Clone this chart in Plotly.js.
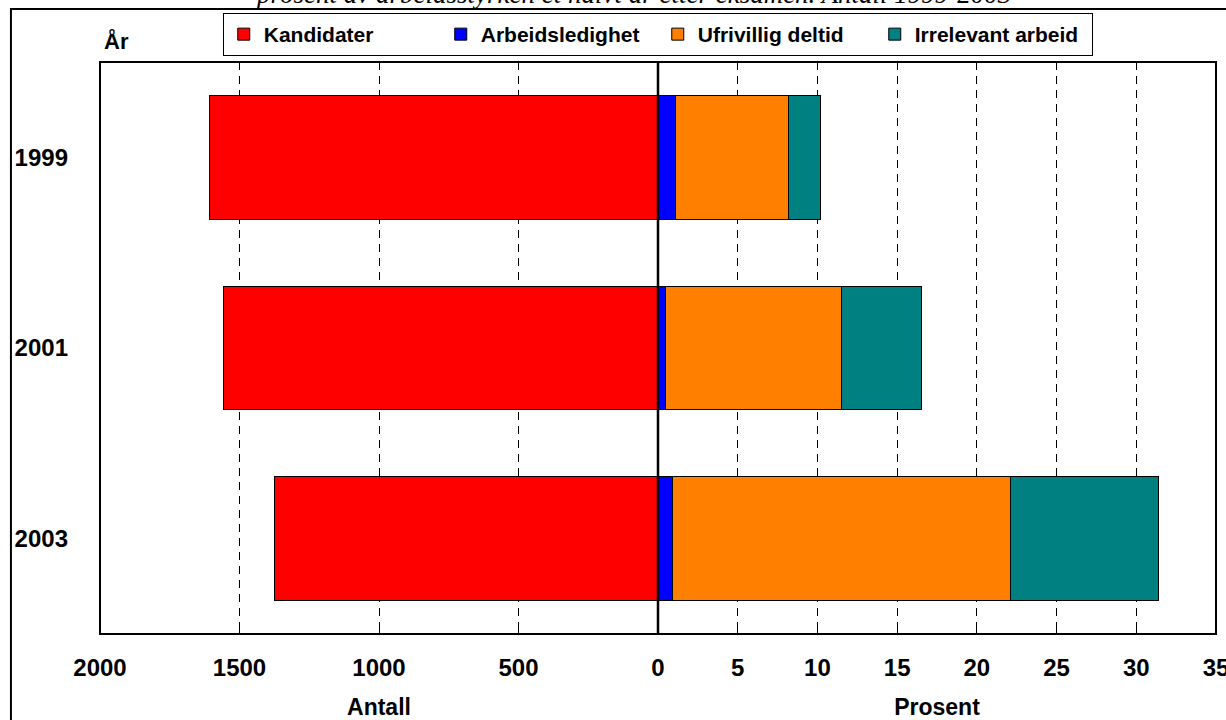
<!DOCTYPE html>
<html lang="no">
<head>
    <meta charset="UTF-8">
    <title>Kandidater og andel ledige</title>
    <script src="https://cdn.plot.ly/plotly-3.0.1.min.js"></script>
    <style>
        body { margin: 0; padding: 0; background: #fff; }
        #grafico { width: 1226px; height: 720px; }
    </style>
</head>
<body>
<div id="grafico"></div>
<script>
    // Data lest av figuren
    const aar = ['1999', '2001', '2003'];
    const kandidater = [1606, 1559, 1373];          // Antall
    const arbeidsledighet = [1.1, 0.45, 0.9];       // Prosent
    const ufrivilligDeltid = [7.1, 11.05, 21.2];    // Prosent
    const irrelevantArbeid = [2.0, 5.0, 9.3];       // Prosent

    const antallTicks = [2000, 1500, 1000, 500];
    const prosentTicks = [0, 5, 10, 15, 20, 25, 30, 35];

    const fontFam = '"Liberation Sans", Arial, sans-serif';
    const kant = { color: '#000', width: 1 };

    function serie(navn, verdier, farge, akse) {
        return {
            type: 'bar', orientation: 'h', name: navn,
            y: aar, x: verdier, xaxis: akse, yaxis: 'y',
            marker: { color: farge, line: kant },
            hoverinfo: 'x+name'
        };
    }

    const data = [
        serie('Kandidater', kandidater, '#FF0000', 'x'),
        serie('Arbeidsledighet', arbeidsledighet, '#0000FF', 'x2'),
        serie('Ufrivillig deltid', ufrivilligDeltid, '#FF8000', 'x2'),
        serie('Irrelevant arbeid', irrelevantArbeid, '#008080', 'x2')
    ];

    const titFont = { family: fontFam, size: 23, weight: 'bold', color: '#000' };

    const felles = {
        showgrid: true, gridcolor: '#000', gridwidth: 1, griddash: '8px,6px',
        ticks: 'inside', ticklen: 12, tickcolor: '#000', tickwidth: 1,
        showline: false, zeroline: false,
        tickfont: { family: fontFam, size: 24, weight: 'bold', color: '#000' },
        ticklabelstandoff: 17, ticklabeloverflow: 'allow'
    };

    const layout = {
        width: 1226, height: 720,
        margin: { l: 100, r: 10, t: 62, b: 86 },
        paper_bgcolor: '#fff', plot_bgcolor: '#fff',
        barmode: 'stack', bargap: 0.35,
        font: { family: fontFam, color: '#000' },
        xaxis: Object.assign({}, felles, {
            domain: [0, 0.5], range: [2000, 0], anchor: 'y',
            tickvals: antallTicks,
            title: { text: 'Antall', standoff: 24, font: titFont }
        }),
        xaxis2: Object.assign({}, felles, {
            domain: [0.5, 1], range: [0, 35], anchor: 'y',
            tickvals: prosentTicks,
            title: { text: 'Prosent', standoff: 24, font: titFont }
        }),
        yaxis: {
            type: 'category', autorange: 'reversed',
            showgrid: false, zeroline: false, showline: false, ticks: '',
            ticklabelstandoff: 31,
            tickfont: { family: fontFam, size: 24, weight: 'bold', color: '#000' }
        },
        showlegend: true,
        legend: {
            orientation: 'h', x: 0.110, y: 1.0857, xanchor: 'left', yanchor: 'top',
            bordercolor: '#000', borderwidth: 1, bgcolor: '#fff',
            entrywidth: 172, entrywidthmode: 'pixels', traceorder: 'normal',
            font: { family: fontFam, size: 21, weight: 'bold', color: '#000' }
        },
        shapes: [
            // ytre ramme
            { type: 'rect', xref: 'paper', yref: 'paper', x0: -0.0798, x1: 1.2, y0: -0.5, y1: 1.0927,
              line: { color: '#000', width: 2 }, fillcolor: 'rgba(0,0,0,0)' },
            // plottramme
            { type: 'rect', xref: 'paper', yref: 'paper', x0: 0, x1: 1, y0: 0, y1: 1,
              line: { color: '#000', width: 2 }, fillcolor: 'rgba(0,0,0,0)' },
            // nullinje
            { type: 'line', xref: 'paper', yref: 'paper', x0: 0.5, x1: 0.5, y0: 0, y1: 1,
              line: { color: '#000', width: 2.5 }, layer: 'above' }
        ],
        annotations: [
            { text: 'prosent av arbeidsstyrken et halvt år etter eksamen. Antall 1999-2003',
              xref: 'paper', yref: 'paper', x: 0.4776, y: 1.0909,
              xanchor: 'center', yanchor: 'bottom', showarrow: false, borderpad: 0,
              font: { family: '"Liberation Serif", "Times New Roman", serif', size: 27,
                      style: 'italic', color: '#000' } },
            { text: 'År', xref: 'paper', yref: 'paper', x: 0.0018, y: 1.0367,
              xanchor: 'left', yanchor: 'middle', showarrow: false,
              font: { family: fontFam, size: 22, weight: 'bold', color: '#000' } }
        ]
    };

    Plotly.newPlot('grafico', data, layout, { displayModeBar: false, staticPlot: true });
</script>
</body>
</html>
